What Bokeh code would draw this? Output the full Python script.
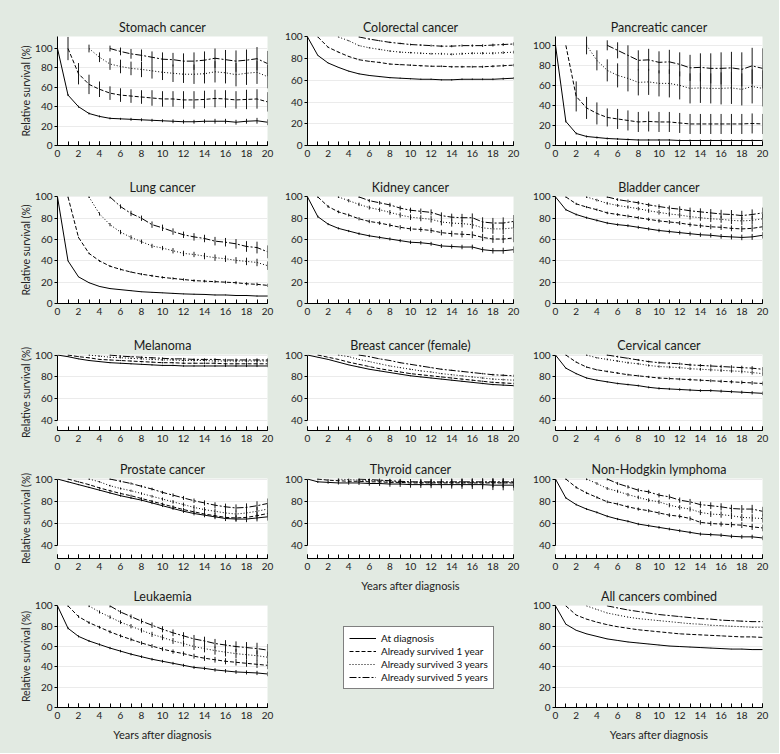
from bokeh.plotting import figure
from bokeh.layouts import row, column
from bokeh.models import Range1d, FixedTicker, SingleIntervalTicker, Legend, LegendItem
from bokeh.embed import file_html
from bokeh.resources import INLINE

PAGE_BG = "#e2eae2"
FONT = "Lato"

START_YEARS = [0, 1, 3, 5]
SERIES_LABELS = ["At diagnosis", "Already survived 1 year",
                 "Already survived 3 years", "Already survived 5 years"]
DASHES = ["solid", "4 2", "1 2", "7 2 2 2"]
X_LABEL = "Years after diagnosis"
Y_LABEL = "Relative survival (%)"

# ---------------- data (relative survival %, and error half-widths) ----------------
# Stomach
st_d = [100,52,40,33,30,28,27.5,27,26.5,26,25.5,25,24.5,24.5,25,25,25,24,25,25.5,24]
st_d_e = [0,1,1,1,1,1,1,1.5,1.5,1.5,1.5,2,2,2,2,2.5,2.5,2.5,2.5,3,3]
st_1 = [100,74,63,58,54,52,51,50,49,48,48,47,47,47.5,48.5,48,47,47.5,48,45]
st_1_e = [12,11,10,8,7,7,7,7,8,8,8,9,9,9,9,9,9,10,10,10]
st_3 = [100,91,84,81.5,79.5,78.5,77,75.5,74.5,73.5,73.5,74,76,75,73,74.5,75.5,71]
st_3_e = [4,5,6,7,7,8,8,8,9,9,10,10,11,11,12,12,12,12]
st_5 = [100,97,94.5,93,91,89,88.5,87,87,88,90,88.5,87,88,89.5,84.5]
st_5_e = [3,4,5,6,6,7,7,8,9,9,10,10,11,11,12,13]
# Colorectal
co_d = [100,83,76,72,68.5,66,64.5,63.5,62.5,62,61.5,61,61,60.5,60.5,61,61,61,61,61.5,62]
co_d_e = [0,0.3,0.3,0.3,0.4,0.4,0.4,0.5,0.5,0.5,0.5,0.6,0.6,0.6,0.7,0.7,0.7,0.8,0.8,0.9,1]
co_1 = [100,90.5,86,82,79,77.5,76.5,75,74.5,74,73.5,73,73,72.5,72.5,72.5,72.5,73,73.5,74]
co_1_e = [0.3,0.4,0.4,0.5,0.5,0.5,0.6,0.6,0.6,0.7,0.7,0.7,0.8,0.8,0.9,0.9,1,1,1.1,1.2]
co_3 = [100,96.5,92,90,88.5,87,86,85.5,85,84.5,84.5,84,84.5,85,85,85,85.5,86]
co_3_e = [0.4,0.5,0.5,0.6,0.6,0.7,0.7,0.7,0.8,0.8,0.9,0.9,1,1,1.1,1.1,1.2,1.3]
co_5 = [100,98,96.5,95,94,93,92.5,92,91.5,91.5,92,92,92,92.5,93,93.5]
co_5_e = [0.5,0.6,0.6,0.7,0.7,0.8,0.8,0.9,0.9,1,1,1.1,1.2,1.3,1.4,1.5]
# Pancreatic
pa_d = [100,24,12,9,8,7,6.5,6,5.5,5.5,5.5,5.5,5,5,5,5,5,5,5,5,5]
pa_d_e = [0,1,1,1,1,1,1,1,1,1,1,1,1,1,1,1,1,1,1,1,1]
pa_1 = [100,49,37.5,32,28,26.5,25,23.5,24,23.5,23.5,22.5,21.5,21.5,21.5,21.5,21.5,21.5,22,21.5]
pa_1_e = [0,15,11,11,9,10,10,10,10,10,10,10,10,10,10,10,10,10,10,10]
pa_3 = [100,85,75,70,67,63,63.5,62,62,60,57,57.5,57,57,57.5,56,59,57]
pa_3_e = [9,10,11,12,13,13,13,13,14,14,15,15,15,16,16,16,17,18]
pa_5 = [100,95,90,85,85.5,83,83.5,81,77.5,78,77,77,77.5,76,79.5,77]
pa_5_e = [5,8,10,10,11,11,12,12,13,14,15,16,16,17,18,20]
# Lung
lu_d = [100,40,25,19.5,16,14,13,12,11,10.5,10,9.5,9,8.7,8.5,8,8,7.5,7.5,7,7]
lu_d_e = [0,0.3,0.3,0.3,0.3,0.3,0.3,0.3,0.3,0.3,0.3,0.4,0.4,0.4,0.4,0.4,0.4,0.4,0.5,0.5,0.5]
lu_1 = [100,62,47,40,35,32,29.5,27.5,26,24.5,23.5,22.5,21.5,21,20.5,20,19.5,18.5,18,17]
lu_1_e = [0.5,0.6,0.7,0.8,0.8,0.9,0.9,1,1,1,1.1,1.1,1.2,1.2,1.3,1.3,1.4,1.4,1.5,1.5]
lu_3 = [100,84,74,67,62,58,54,52,49.5,47,46,44.5,43,42,40.5,39.5,38.5,35.5]
lu_3_e = [1,1.5,1.5,2,2,2,2,2,2.5,2.5,2.5,3,3,3,3,3.5,3.5,4]
lu_5 = [100,91,84.5,80,74,71,67.5,64.5,62.5,61,58.5,57.5,56,53.5,52.5,48.5]
lu_5_e = [1.5,2,2.5,2.5,3,3,3,3,3.5,3.5,4,4,4.5,5,5.5,6]
# Kidney
ki_d = [100,81.5,74.5,70.5,68,65.5,63.5,62,60.5,59,57.5,57,56,54,53.5,53,53,50.5,49.5,49.5,50.5]
ki_d_e = [0,1,1,1,1,1.2,1.2,1.3,1.4,1.5,1.6,1.7,1.8,1.9,2,2.1,2.2,2.4,2.6,2.8,3]
ki_1 = [100,91,86,83,79.5,77,75.5,73.5,71.5,70,69.5,68.5,66.5,65.5,65,64.5,62,60.5,60.5,61.5]
ki_1_e = [1,1.2,1.3,1.4,1.5,1.6,1.7,1.8,2,2.1,2.2,2.4,2.6,2.8,3,3.2,3.4,3.6,3.8,4]
ki_3 = [100,96.5,93,90,88,85.5,83,81,80,79,76.5,75.5,75,74,71,70,70,71]
ki_3_e = [1,1.5,1.6,1.8,2,2.2,2.4,2.6,2.8,3,3.2,3.4,3.6,3.8,4.2,4.6,5,5.5]
ki_5 = [100,96.5,94.5,92.5,89.5,87.5,86.5,85.5,82.5,81,80.5,80.5,76.5,75.5,75.5,77]
ki_5_e = [1,1.5,1.7,2,2.2,2.4,2.6,2.8,3,3.3,3.6,4,4.4,4.8,5.3,6]
# Bladder
bl_d = [100,88,83.5,80.5,78,75.5,74,73,71.5,70,68.5,67.5,66.5,65.5,64.5,64,63,62.5,62,62.5,64]
bl_d_e = [0,0.8,0.9,1,1,1.1,1.2,1.3,1.4,1.5,1.6,1.7,1.8,1.9,2,2.1,2.2,2.4,2.6,2.8,3]
bl_1 = [100,93.5,90.5,88,85,83.5,82,80.5,79,77.5,76.5,75.5,74,73,72,71.5,70.5,70,70.5,72]
bl_1_e = [0.8,1,1,1.1,1.2,1.3,1.4,1.5,1.6,1.7,1.8,1.9,2,2.1,2.3,2.5,2.7,2.9,3.1,3.4]
bl_3 = [100,97,94,92,90.5,89,87,85.5,84,83,81.5,80.5,79.5,79,78,77.5,78,79.5]
bl_3_e = [1,1.2,1.3,1.4,1.5,1.7,1.9,2.1,2.3,2.5,2.7,2.9,3.1,3.3,3.5,3.8,4.1,4.5]
bl_5 = [100,97.5,96,94.5,92.5,91,89.5,88.5,87,86,85,84,83.5,82.5,83.5,85]
bl_5_e = [1,1.3,1.5,1.7,1.9,2.1,2.4,2.7,3,3.3,3.6,3.9,4.2,4.5,4.8,5]
# Melanoma
me_d = [100,98.5,96.5,95,94,93,92.5,92,91.5,91,90.5,90.5,90,90,90,90,90,90,90,90,90]
me_d_e = [0,0.3,0.3,0.4,0.4,0.4,0.5,0.5,0.5,0.6,0.6,0.6,0.7,0.7,0.8,0.8,0.9,0.9,1,1,1.1]
me_1 = [100,98.5,97.5,96,95.5,95,94.5,94,93.5,93,93,92.5,92.5,92.5,92.5,92,92,92,92,92]
me_1_e = [0.3,0.4,0.4,0.4,0.5,0.5,0.5,0.6,0.6,0.7,0.7,0.8,0.8,0.9,0.9,1,1,1.1,1.2,1.3]
me_3 = [100,99,98,97.5,97,96.5,96,95.5,95.5,95,95,95,94.5,94.5,94.5,94.5,94.5,94.5]
me_3_e = [0.4,0.5,0.5,0.6,0.6,0.7,0.7,0.8,0.8,0.9,0.9,1,1,1.1,1.2,1.3,1.4,1.5]
me_5 = [100,99,98.5,98,97.5,97,96.5,96.5,96,96,96,95.5,95.5,95.5,95.5,95.5]
me_5_e = [0.5,0.6,0.6,0.7,0.7,0.8,0.8,0.9,1,1,1.1,1.2,1.3,1.4,1.5,1.6]
# Breast (female)
br_d = [100,98,96,93.5,91,89,87,85.5,84,82.5,81,80,79,78,77,76,75,74,73,72.5,72]
br_d_e = [0,0.2,0.2,0.2,0.2,0.3,0.3,0.3,0.3,0.3,0.4,0.4,0.4,0.4,0.5,0.5,0.5,0.6,0.6,0.7,0.7]
br_1 = [100,98,96,93.5,91.5,89.5,87.5,86,84.5,83,82,81,80,79,78,77,76,75,74.5,74]
br_1_e = [0.2,0.2,0.2,0.3,0.3,0.3,0.3,0.3,0.4,0.4,0.4,0.4,0.5,0.5,0.5,0.6,0.6,0.7,0.7,0.8]
br_3 = [100,98.5,96,94,92,90,88.5,87,85.5,84.5,83,82,81,80,79,78,77.5,77]
br_3_e = [0.2,0.3,0.3,0.3,0.3,0.4,0.4,0.4,0.4,0.5,0.5,0.5,0.6,0.6,0.7,0.7,0.8,0.9]
br_5 = [100,98.5,96.5,95,93,91.5,90,88.5,87,86,85,84,83,82,81.5,81]
br_5_e = [0.3,0.3,0.3,0.4,0.4,0.4,0.5,0.5,0.5,0.6,0.6,0.7,0.7,0.8,0.9,1]
# Cervical
ce_d = [100,88,83,79,77,75.5,74,73,72,70.5,69.5,69,68.5,68,67.5,67.5,67,66.5,66,65.5,65]
ce_d_e = [0,0.5,0.6,0.6,0.7,0.7,0.8,0.8,0.9,0.9,1,1,1.1,1.1,1.2,1.2,1.3,1.3,1.4,1.5,1.6]
ce_1 = [100,93.5,89,86.5,85,83.5,82,81,80,79,78.5,78,77.5,77,76.5,76,75.5,75,74.5,74]
ce_1_e = [0.5,0.6,0.7,0.7,0.8,0.8,0.9,0.9,1,1,1.1,1.1,1.2,1.2,1.3,1.4,1.5,1.6,1.7,1.8]
ce_3 = [100,97.5,96,94.5,93,92,90.5,89.5,89,88.5,87.5,87,86.5,86,85.5,85,84,83]
ce_3_e = [0.6,0.7,0.8,0.8,0.9,0.9,1,1,1.1,1.1,1.2,1.3,1.4,1.5,1.6,1.7,1.8,2]
ce_5 = [100,98.5,97,95.5,94,93,92.5,92,91,90.5,90,89.5,89,88.5,88,87]
ce_5_e = [0.7,0.8,0.8,0.9,0.9,1,1,1.1,1.2,1.3,1.4,1.5,1.6,1.7,1.8,2]
# Prostate
pr_d = [100,97.5,95,92.5,90,87.5,85,83,81,78.5,76,73.5,71,69,67.5,66,64.5,64,64,65,66]
pr_d_e = [0,0.5,0.5,0.6,0.6,0.7,0.8,0.9,1,1.1,1.2,1.3,1.5,1.7,1.9,2.1,2.3,2.5,2.8,3.1,3.4]
pr_1 = [100,97.5,95,92,89.5,87,85,82.5,80,77.5,75,72.5,70.5,68.5,67,65.5,65,65.5,67,69]
pr_1_e = [0.5,0.6,0.6,0.7,0.8,0.9,1,1.1,1.2,1.3,1.4,1.6,1.8,2,2.2,2.4,2.7,3,3.3,3.6]
pr_3 = [100,97.5,94,91.5,89.5,87,84.5,82,79.5,77,74.5,72.5,71,69.5,68.5,69.5,71,73]
pr_3_e = [0.6,0.7,0.8,0.9,1,1.1,1.2,1.4,1.6,1.8,2,2.2,2.5,2.8,3.1,3.4,3.8,4.2]
pr_5 = [100,98,96,93.5,91,88,85.5,83,80.5,78.5,76.5,75,74,74.5,76,78]
pr_5_e = [0.8,0.9,1,1.1,1.2,1.4,1.6,1.8,2,2.3,2.6,2.9,3.2,3.6,4,4.5]
# Thyroid
th_d = [100,97.5,97,96.5,96.5,96.5,96,96,95.5,95.5,95,95,95,95,95,95,95,95,94.5,94.5,94.5]
th_d_e = [0,1,1.2,1.4,1.6,1.8,2,2.2,2.4,2.6,2.8,3,3.2,3.4,3.6,3.8,4,4.2,4.4,4.6,4.8]
th_1 = [100,99,98.5,98,98,97.5,97.5,97,97,96.5,96.5,96.5,96.5,96.5,96.5,96.5,96.5,96.5,96.5,96.5]
th_1_e = [0.8,1,1.2,1.4,1.6,1.8,2,2.2,2.4,2.6,2.8,3,3.2,3.4,3.6,3.8,4,4.2,4.4,4.6]
th_3 = [100,99.5,99,98.5,98.5,98,97.5,97.5,97,97,97,97,97,97,97,97,97,97]
th_3_e = [1,1.2,1.4,1.6,1.8,2,2.2,2.4,2.6,2.8,3,3.2,3.4,3.6,3.8,4,4.2,4.4]
th_5 = [100,99.5,99,98.5,98,97.5,97.5,97.5,97.5,97.5,97.5,97.5,97.5,97.5,97.5,97.5]
th_5_e = [1,1.3,1.6,1.9,2.2,2.5,2.8,3,3.2,3.4,3.6,3.8,4,4.2,4.4,4.6]
# Non-Hodgkin lymphoma
nh_d = [100,83,77,73,70,66.5,64,62,59.5,58,56.5,55,53.5,52,50.5,50,49.5,48.5,48,48,47]
nh_d_e = [0,0.7,0.8,0.8,0.9,0.9,1,1,1.1,1.1,1.2,1.2,1.3,1.3,1.4,1.5,1.6,1.7,1.8,1.9,2]
nh_1 = [100,92.5,87.5,83.5,79.5,77.5,75,73,71.5,69.5,67.5,66.5,64.5,61,60,59.5,59,58.5,57,56]
nh_1_e = [0.8,1,1,1.1,1.2,1.2,1.3,1.4,1.5,1.6,1.7,1.8,1.9,2,2.1,2.2,2.4,2.6,2.8,3]
nh_3 = [100,96,91.5,89,86,83.5,81,79.5,76.5,74.5,73,70,68.5,68,67,65.5,65,64.5]
nh_3_e = [1,1.2,1.3,1.4,1.5,1.6,1.7,1.8,1.9,2,2.2,2.4,2.6,2.8,3,3.2,3.4,3.7]
nh_5 = [100,96,93,90,88.5,85.5,84,81,79.5,77,76,75,73.5,73,73,71]
nh_5_e = [1.2,1.4,1.5,1.6,1.8,2,2.2,2.4,2.6,2.8,3,3.2,3.4,3.6,3.8,4]
# Leukaemia
le_d = [100,78,70,65.5,62,58.5,55.5,52.5,50,47.5,45.5,43.5,41.5,39.5,38.5,37,36,35,34.5,34,33]
le_d_e = [0,1,1,1,1.1,1.1,1.2,1.2,1.3,1.3,1.4,1.4,1.5,1.5,1.6,1.7,1.8,1.9,2,2.1,2.2]
le_1 = [100,89.5,83.5,79,74.5,70.5,67,63.5,60.5,57.5,55,53,50.5,48.5,47,45.5,44.5,43.5,42.5,41.5]
le_1_e = [1,1.2,1.3,1.4,1.5,1.6,1.7,1.8,1.9,2,2.1,2.2,2.4,2.6,2.8,3,3.2,3.4,3.6,3.8]
le_3 = [100,94,89,84,80,76,72,69,65.5,63,60,58,56,54.5,53,52,51,49.5]
le_3_e = [1.2,1.5,1.7,1.9,2.1,2.3,2.5,2.7,2.9,3.1,3.4,3.7,4,4.3,4.6,4.9,5.2,5.6]
le_5 = [100,94,89.5,85,81,77,73.5,70.5,67.5,65.5,63,61.5,60,59,58,56.5]
le_5_e = [1.5,1.8,2.1,2.4,2.7,3,3.3,3.6,3.9,4.2,4.5,4.8,5.1,5.4,5.7,6]
# All cancers combined
al_d = [100,82,76,72.5,70,67.5,66,64.5,63.5,62.5,61.5,60.5,60,59.5,59,58.5,58,57.5,57.5,57,57]
al_d_e = [0,0.2,0.2,0.2,0.2,0.2,0.2,0.2,0.2,0.2,0.2,0.2,0.2,0.2,0.3,0.3,0.3,0.3,0.3,0.3,0.3]
al_1 = [100,91,87,84,81.5,79.5,78,76.5,75.5,74.5,73.5,72.5,72,71.5,71,70.5,70,69.5,69.5,69]
al_1_e = [0.2,0.2,0.2,0.2,0.2,0.2,0.2,0.2,0.2,0.2,0.2,0.3,0.3,0.3,0.3,0.3,0.3,0.3,0.3,0.3]
al_3 = [100,96.5,93,91,89,87.5,86.5,85.5,84.5,83.5,82.5,82,81,80.5,80,79.5,79,79]
al_3_e = [0.2,0.2,0.2,0.2,0.2,0.2,0.2,0.3,0.3,0.3,0.3,0.3,0.3,0.3,0.3,0.3,0.4,0.4]
al_5 = [100,98,96,94.5,93,91.5,90.5,89.5,88.5,87.5,87,86,85.5,85,84.5,84.5]
al_5_e = [0.2,0.2,0.2,0.2,0.3,0.3,0.3,0.3,0.3,0.3,0.3,0.4,0.4,0.4,0.4,0.4]

# ---------------- layout geometry (pixels) ----------------
COL_W = [282, 248, 249]
COL_LR = [(57, 15), (24, 17), (25, 17)]
# (height, top border, bottom border) per row
ROW_GEOM = [(170, 36, 25), (162, 26, 29), (123, 22, 25), (128, 23, 25), (170, 22, 46)]
ROW4_MID = (141, 23, 38)
LEGEND_H = 157


def make_panel(title, series, errors, col, geom, y_range, reduced=False,
               ylabel=False, xlabel=False):
    h, top, bottom = geom
    left, right = COL_LR[col]
    p = figure(width=COL_W[col], height=h, x_range=Range1d(0, 20),
               y_range=Range1d(*y_range), toolbar_location=None,
               output_backend="svg", min_border_left=left, min_border_right=right,
               min_border_top=top, min_border_bottom=bottom,
               background_fill_color="white", border_fill_color=PAGE_BG,
               outline_line_color=None, title=title)
    p.title.align = "center"
    p.title.text_font = FONT
    p.title.text_font_size = "12.5px"
    p.title.text_font_style = "normal"
    p.title.text_color = "#1a1a1a"
    p.title.standoff = 3

    xa = p.xaxis[0]
    xa.ticker = SingleIntervalTicker(interval=2, num_minor_ticks=2)
    xa.major_tick_in = 4
    xa.major_tick_out = 0
    xa.minor_tick_in = 4
    xa.minor_tick_out = 0
    xa.major_label_standoff = 4
    xa.major_label_text_font = FONT
    xa.major_label_text_font_size = "10px"
    xa.major_label_text_color = "#222222"
    xa.axis_line_color = "black"
    xa.major_tick_line_color = "black"
    xa.minor_tick_line_color = "black"
    if xlabel:
        xa.axis_label = X_LABEL
        xa.axis_label_text_font = FONT
        xa.axis_label_text_font_size = "11px"
        xa.axis_label_text_font_style = "normal"
        xa.axis_label_text_color = "#222222"
        xa.axis_label_standoff = 6

    ya = p.yaxis[0]
    ticks = [40, 60, 80, 100] if reduced else [0, 20, 40, 60, 80, 100]
    ya.ticker = FixedTicker(ticks=ticks)
    if reduced:
        ya.bounds = (40, 100)
    ya.major_tick_in = 0
    ya.major_tick_out = 3
    ya.minor_tick_in = 0
    ya.minor_tick_out = 0
    ya.major_label_standoff = 2
    ya.major_label_text_font = FONT
    ya.major_label_text_font_size = "10px"
    ya.major_label_text_color = "#222222"
    ya.axis_line_color = "black"
    ya.major_tick_line_color = "black"
    if ylabel:
        ya.axis_label = Y_LABEL
        ya.axis_label_text_font = FONT
        ya.axis_label_text_font_size = "10.5px"
        ya.axis_label_text_font_style = "normal"
        ya.axis_label_text_color = "#222222"
        ya.axis_label_standoff = 0

    p.xgrid.visible = False
    p.ygrid.grid_line_color = "#ebebeb"

    for start, ys, es, dash in zip(START_YEARS, series, errors, DASHES):
        xs = list(range(start, start + len(ys)))
        lo = [y - e for y, e in zip(ys, es)]
        hi = [y + e for y, e in zip(ys, es)]
        p.segment(x0=xs, y0=lo, x1=xs, y1=hi, line_color="#1a1a1a", line_width=1)
        p.line(xs, ys, line_color="black", line_width=1, line_dash=dash)
    return p


FULL = (0, 100.4)
RED3 = (31, 100.5)
RED4 = (28.5, 100.5)

st = make_panel("Stomach cancer", [st_d, st_1, st_3, st_5], [st_d_e, st_1_e, st_3_e, st_5_e],
                0, ROW_GEOM[0], (0, 112.4), ylabel=True)
co = make_panel("Colorectal cancer", [co_d, co_1, co_3, co_5], [co_d_e, co_1_e, co_3_e, co_5_e],
                1, ROW_GEOM[0], FULL)
pa = make_panel("Pancreatic cancer", [pa_d, pa_1, pa_3, pa_5], [pa_d_e, pa_1_e, pa_3_e, pa_5_e],
                2, ROW_GEOM[0], (0, 108.8))
lu = make_panel("Lung cancer", [lu_d, lu_1, lu_3, lu_5], [lu_d_e, lu_1_e, lu_3_e, lu_5_e],
                0, ROW_GEOM[1], FULL, ylabel=True)
ki = make_panel("Kidney cancer", [ki_d, ki_1, ki_3, ki_5], [ki_d_e, ki_1_e, ki_3_e, ki_5_e],
                1, ROW_GEOM[1], FULL)
bl = make_panel("Bladder cancer", [bl_d, bl_1, bl_3, bl_5], [bl_d_e, bl_1_e, bl_3_e, bl_5_e],
                2, ROW_GEOM[1], FULL)
me = make_panel("Melanoma", [me_d, me_1, me_3, me_5], [me_d_e, me_1_e, me_3_e, me_5_e],
                0, ROW_GEOM[2], RED3, reduced=True, ylabel=True)
br = make_panel("Breast cancer (female)", [br_d, br_1, br_3, br_5], [br_d_e, br_1_e, br_3_e, br_5_e],
                1, ROW_GEOM[2], RED3, reduced=True)
ce = make_panel("Cervical cancer", [ce_d, ce_1, ce_3, ce_5], [ce_d_e, ce_1_e, ce_3_e, ce_5_e],
                2, ROW_GEOM[2], RED3, reduced=True)
pr = make_panel("Prostate cancer", [pr_d, pr_1, pr_3, pr_5], [pr_d_e, pr_1_e, pr_3_e, pr_5_e],
                0, ROW_GEOM[3], RED4, reduced=True, ylabel=True)
th = make_panel("Thyroid cancer", [th_d, th_1, th_3, th_5], [th_d_e, th_1_e, th_3_e, th_5_e],
                1, ROW4_MID, RED4, reduced=True, xlabel=True)
nh = make_panel("Non-Hodgkin lymphoma", [nh_d, nh_1, nh_3, nh_5], [nh_d_e, nh_1_e, nh_3_e, nh_5_e],
                2, ROW_GEOM[3], RED4, reduced=True)
le = make_panel("Leukaemia", [le_d, le_1, le_3, le_5], [le_d_e, le_1_e, le_3_e, le_5_e],
                0, ROW_GEOM[4], FULL, ylabel=True, xlabel=True)
al = make_panel("All cancers combined", [al_d, al_1, al_3, al_5], [al_d_e, al_1_e, al_3_e, al_5_e],
                2, ROW_GEOM[4], FULL, xlabel=True)

# legend panel (its lines sit outside the visible range; only the legend shows)
lp = figure(width=COL_W[1], height=LEGEND_H, x_range=Range1d(0, 1), y_range=Range1d(0, 1),
            toolbar_location=None, output_backend="svg", x_axis_type=None, y_axis_type=None,
            min_border=0, border_fill_color=PAGE_BG, background_fill_color=PAGE_BG,
            outline_line_color=None)
lp.title.visible = False
items = []
for label, dash in zip(SERIES_LABELS, DASHES):
    r = lp.line(x=[-5, -4], y=[-5, -4], line_color="black", line_width=1, line_dash=dash)
    items.append(LegendItem(label=label, renderers=[r]))
legend = Legend(items=items, location=(36, 64))
legend.label_text_font = FONT
legend.label_text_font_size = "10px"
legend.label_text_color = "#111111"
legend.glyph_width = 27
legend.glyph_height = 12
legend.label_height = 12
legend.label_width = 96
legend.label_standoff = 5
legend.spacing = 1
legend.padding = 5
legend.margin = 0
legend.border_line_color = "black"
legend.border_line_width = 1
legend.background_fill_color = "white"
legend.background_fill_alpha = 1
lp.add_layout(legend)

BG = {"background-color": PAGE_BG}
col1 = column(st, lu, me, pr, le, spacing=0, styles=BG)
col2 = column(co, ki, br, th, lp, spacing=0, styles=BG)
col3 = column(pa, bl, ce, nh, al, spacing=0, styles=BG)
layout = row(col1, col2, col3, spacing=0, styles=BG)

open("out.html", "w").write(file_html(layout, INLINE))
